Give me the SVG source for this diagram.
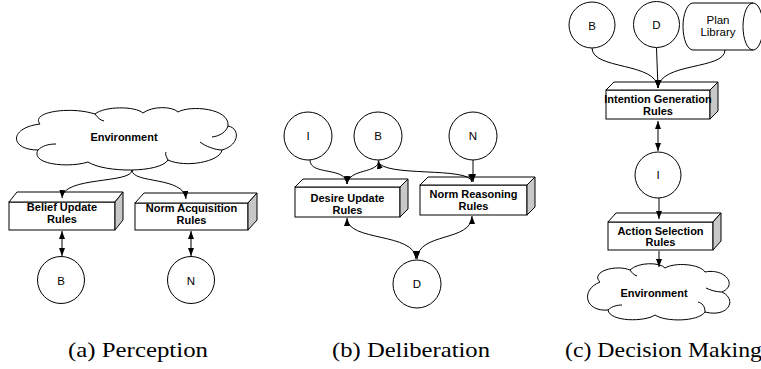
<svg xmlns="http://www.w3.org/2000/svg" width="761" height="369" viewBox="0 0 761 369">
<style>
.bg{fill:#fff}
.ln{fill:none;stroke:#000;stroke-width:1}
.sh{fill:#fff;stroke:#000;stroke-width:1}
.sd{fill:#c8c8c8;stroke:#000;stroke-width:1}
.lb{font-family:"Liberation Sans",Arial,sans-serif;font-weight:bold;font-size:11px;text-anchor:middle;fill:#000}
.lt{font-family:"Liberation Sans",Arial,sans-serif;font-size:11.5px;text-anchor:middle;fill:#000}
.cap{font-family:"Liberation Serif","Times New Roman",serif;font-size:22px;fill:#000}
.con{fill:none;stroke:#000;stroke-width:1}
.a2{marker-start:url(#ah);marker-end:url(#ah)}
.a1{marker-end:url(#ah)}
</style>
<defs>
<marker id="ah" viewBox="0 0 8 6" refX="8" refY="3" markerWidth="8" markerHeight="6" markerUnits="userSpaceOnUse" orient="auto-start-reverse"><path d="M0,0 L8,3 L0,6 Z" fill="#000"/></marker>
</defs>
<rect class="bg" x="0" y="0" width="761" height="369"/>

<!-- Panel (a) -->
<g id="env-a">
<path class="sh" d="M40,124 C30,112 70,106 95,114 C105,106 135,106 143,113 C152,106 172,106 178,112 C190,105 230,108 228,126 C240,128 240,145 222,150 C220,162 185,168 168,160 C160,173 105,173 88,162 C70,168 30,165 38,150 C10,150 8,128 40,124 Z"/>
<path class="ln" d="M95,114 C98,118 100,120 104,121 M228,126 C226,132 220,136 212,137 M222,150 C215,150 205,146 200,142 M38,150 C42,146 48,144 56,144 M168,160 C166,156 165,154 166,152"/>
<text class="lb" x="124" y="141">Environment</text>
</g>
<g id="belief-update">
<rect class="sh" x="9" y="202" width="106" height="28"/>
<path class="sh" d="M9,202 L17,192 L123,192 L115,202 Z"/>
<path class="sd" d="M115,202 L123,192 L123,220 L115,230 Z"/>
<text class="lb" x="62" y="211">Belief Update</text>
<text class="lb" x="62" y="223">Rules</text>
</g>
<g id="norm-acq">
<rect class="sh" x="135" y="203" width="113" height="27"/>
<path class="sh" d="M135,203 L144,193 L257,193 L248,203 Z"/>
<path class="sd" d="M248,203 L257,193 L257,220 L248,230 Z"/>
<text class="lb" x="191.5" y="212">Norm Acquisition</text>
<text class="lb" x="191.5" y="224">Rules</text>
</g>
<g id="b-a"><circle class="sh" cx="61" cy="280" r="23.5"/><text class="lt" x="61" y="285">B</text></g>
<g id="n-a"><circle class="sh" cx="191" cy="280" r="23.5"/><text class="lt" x="191" y="285">N</text></g>

<!-- Panel (b) -->
<g id="i-b"><circle class="sh" cx="308" cy="136" r="24"/><text class="lt" x="308" y="140">I</text></g>
<g id="b-b"><circle class="sh" cx="378" cy="136" r="24"/><text class="lt" x="378" y="140">B</text></g>
<g id="n-b"><circle class="sh" cx="473" cy="136" r="24"/><text class="lt" x="473" y="140">N</text></g>
<g id="d-b"><circle class="sh" cx="417" cy="284" r="24"/><text class="lt" x="417" y="288">D</text></g>
<g id="desire-update">
<rect class="sh" x="295" y="187" width="105" height="30"/>
<path class="sh" d="M295,187 L303,179 L408,179 L400,187 Z"/>
<path class="sd" d="M400,187 L408,179 L408,209 L400,217 Z"/>
<text class="lb" x="347.5" y="202">Desire Update</text>
<text class="lb" x="347.5" y="214">Rules</text>
</g>
<g id="norm-reasoning">
<rect class="sh" x="420" y="185" width="107" height="30"/>
<path class="sh" d="M420,185 L428,177 L535,177 L527,185 Z"/>
<path class="sd" d="M527,185 L535,177 L535,207 L527,215 Z"/>
<text class="lb" x="473.5" y="198">Norm Reasoning</text>
<text class="lb" x="473.5" y="210">Rules</text>
</g>

<!-- Panel (c) -->
<g id="b-c"><circle class="sh" cx="592" cy="25" r="23"/><text class="lt" x="592" y="30">B</text></g>
<g id="d-c"><circle class="sh" cx="656.5" cy="24.5" r="23"/><text class="lt" x="656.5" y="29">D</text></g>
<g id="plan-library">
<path class="sh" d="M693,3 L753,3 A10,23.5 0 0 1 753,50 L693,50 A10,23.5 0 0 1 693,3 Z"/>
<path class="ln" d="M753,3 A10,23.5 0 0 0 753,50"/>
<text class="lt" x="718" y="24">Plan</text>
<text class="lt" x="718" y="36">Library</text>
</g>
<g id="intention-gen">
<rect class="sh" x="606" y="90" width="104" height="29"/>
<path class="sh" d="M606,90 L614,82 L718,82 L710,90 Z"/>
<path class="sd" d="M710,90 L718,82 L718,111 L710,119 Z"/>
<text class="lb" x="658" y="103">Intention Generation</text>
<text class="lb" x="658" y="115">Rules</text>
</g>
<g id="i-c"><circle class="sh" cx="658" cy="175" r="23"/><text class="lt" x="658" y="179">I</text></g>
<g id="action-selection">
<rect class="sh" x="608" y="222" width="105" height="28"/>
<path class="sh" d="M608,222 L616,213 L721,213 L713,222 Z"/>
<path class="sd" d="M713,222 L721,213 L721,241 L713,250 Z"/>
<text class="lb" x="660.5" y="235">Action Selection</text>
<text class="lb" x="660.5" y="246">Rules</text>
</g>
<g id="env-c">
<path class="sh" d="M600,282 C590,272 615,264 630,270 C638,262 660,262 665,268 C675,262 700,264 705,272 C725,268 738,285 722,292 C738,300 728,318 705,312 C698,322 665,322 655,315 C645,322 610,322 608,310 C585,312 580,290 600,282 Z"/>
<path class="ln" d="M705,312 C705,306 702,303 698,302 M722,292 C716,292 710,290 706,288 M608,310 C612,306 618,305 622,305 M630,270 C632,273 634,275 637,276"/>
<text class="lb" x="654" y="297">Environment</text>
</g>

<!-- Connectors -->
<g id="connectors">
<path class="con a1" d="M132,170 C132,184 63,176 62,198"/>
<path class="con a1" d="M132,170 C132,184 184,176 186,199"/>
<path class="con a2" d="M62,231 L62,256"/>
<path class="con a2" d="M191,231 L191,256"/>

<path class="con a1" d="M310,160 C310,176 346,166 347,184"/>
<path class="con a1" d="M379,160 C379,174 349,168 347,184"/>
<path class="con a2" d="M378,161 C382,178 470,166 472,182"/>
<path class="con a1" d="M473,160 L473,182"/>
<path class="con a2" d="M347,218 C347,242 415,232 416,259"/>
<path class="con a2" d="M472,216 C472,242 418,232 417,259"/>

<path class="con a1" d="M592,48 C592,70 657,62 658,88"/>
<path class="con a1" d="M656.5,48 L658,88"/>
<path class="con a1" d="M725,50 C725,70 660,62 658,88"/>
<path class="con a2" d="M658,121 L658,151"/>
<path class="con a1" d="M659,198 L659,219"/>
<path class="con a1" d="M659,251 L659,267"/>
</g>

<!-- Captions -->
<text class="cap" x="68" y="357" textLength="140" lengthAdjust="spacingAndGlyphs">(a) Perception</text>
<text class="cap" x="332" y="357" textLength="158" lengthAdjust="spacingAndGlyphs">(b) Deliberation</text>
<text class="cap" x="565" y="357" textLength="197" lengthAdjust="spacingAndGlyphs">(c) Decision Making</text>
</svg>
